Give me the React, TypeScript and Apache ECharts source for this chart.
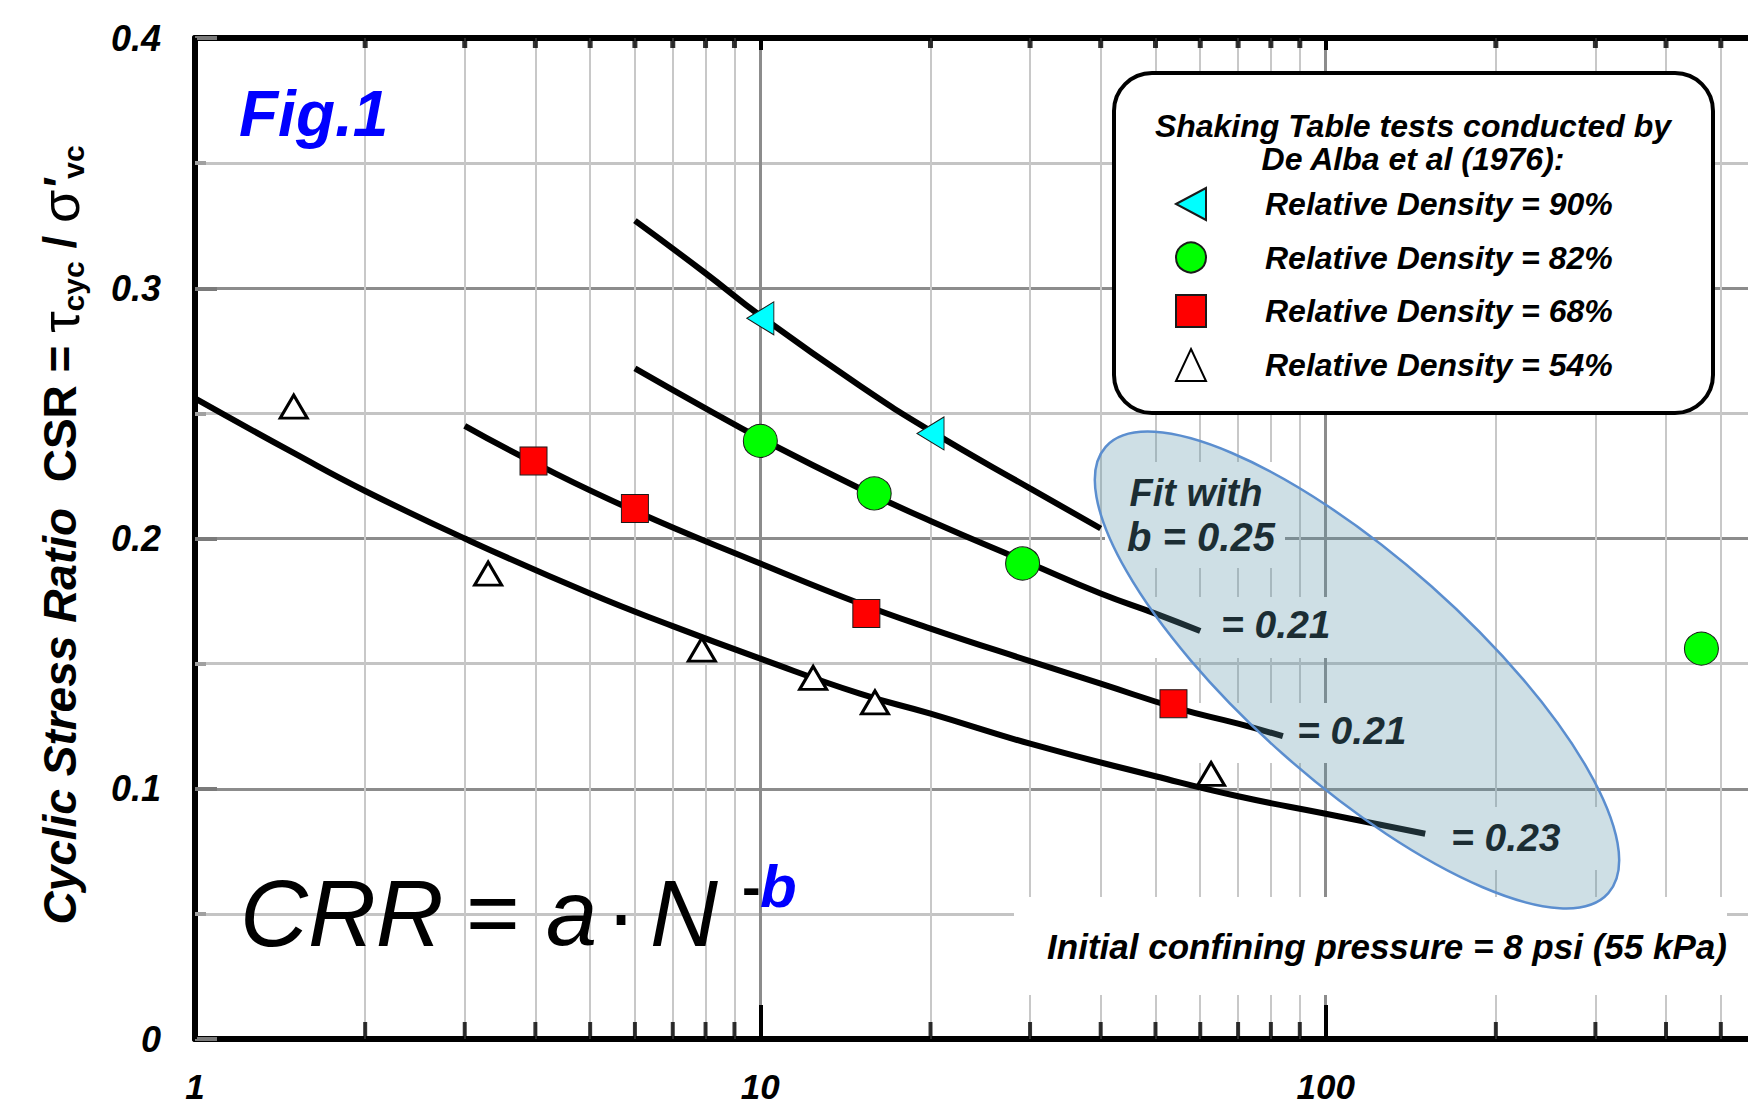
import React, { useEffect, useRef } from 'react';
import * as echarts from 'echarts';

// ---------- data ----------
const X_MINOR_TICKS = [2, 3, 4, 5, 6, 7, 8, 9, 20, 30, 40, 50, 60, 70, 80, 90, 200, 300, 400, 500, 600, 700, 800, 900];
const X_TICK_LABELS = [1, 10, 100];

const SERIES_NAMES = [
  'Relative Density = 90%',
  'Relative Density = 82%',
  'Relative Density = 68%',
  'Relative Density = 54%',
];

// measured test points [N, CSR]
const DR90_POINTS = [[10, 0.288], [20, 0.242]];
const DR82_POINTS = [[10, 0.239], [15.9, 0.218], [29.1, 0.19], [462, 0.156]];
const DR68_POINTS = [[3.97, 0.231], [6, 0.212], [15.4, 0.17], [53.8, 0.134]];
const DR54_POINTS = [[1.495, 0.2527], [3.3, 0.186], [7.88, 0.1556], [12.4, 0.1443], [15.95, 0.1345], [62.7, 0.1059]];

// fitted curves, points [N, CSR]
const FIT90_CURVE = [[6, 0.327], [8, 0.306], [10, 0.289], [15, 0.261], [20, 0.243], [30, 0.22], [40, 0.204]];
const FIT82_CURVE = [[6, 0.268], [8, 0.252], [10, 0.24], [15, 0.22], [20, 0.207], [30, 0.19], [40, 0.178], [50, 0.17], [60, 0.163]];
const FIT68_CURVE = [[3, 0.245], [4, 0.23], [6, 0.211], [10, 0.19], [15, 0.174], [20, 0.164], [30, 0.151], [40, 0.142], [55, 0.132], [70, 0.126], [84, 0.121]];
const FIT54_CURVE = [[1, 0.256], [1.5, 0.234], [2, 0.219], [3, 0.2], [5, 0.178], [7, 0.165], [10, 0.152], [15, 0.138], [20, 0.13], [30, 0.118], [50, 0.105], [70, 0.097], [100, 0.09], [150, 0.082]];

const LEGEND_TITLE = ['Shaking Table tests conducted by', 'De Alba et al (1976):'];
const FIT_TEXTS = ['Fit with', 'b = 0.25', '= 0.21', '= 0.21', '= 0.23'];
const NOTE_TEXT = 'Initial confining pressure = 8 psi (55 kPa)';

const FONT = '"Liberation Sans", Arial, Helvetica, sans-serif';
const BI = { fontFamily: FONT, fontWeight: 'bold', fontStyle: 'italic' };

function txt(text: string, x: number, y: number, extra: any, z = 6) {
  return {
    type: 'text',
    z,
    silent: true,
    x,
    y,
    style: { text, fill: '#000', align: 'left', verticalAlign: 'middle', ...extra },
  };
}

export default function App() {
  const ref = useRef<HTMLDivElement>(null);

  useEffect(() => {
    if (!ref.current) return;
    const chart = echarts.init(ref.current, null, { renderer: 'svg' });

    const curve = (data: number[][]) => ({
      type: 'line',
      data,
      smooth: true,
      symbol: 'none',
      silent: true,
      z: 3,
      lineStyle: { color: '#000', width: 6 },
      legendHoverLink: false,
    });

    const option: any = {
      animation: false,
      backgroundColor: '#ffffff',
      grid: { left: 195, top: 38, width: 1696, height: 1001, show: false, containLabel: false, outerBoundsMode: 'none' },
      xAxis: [
        {
          type: 'log',
          logBase: 10,
          min: 1,
          max: 1000,
          position: 'bottom',
          axisLine: { show: true, onZero: false, lineStyle: { color: '#000', width: 6 } },
          axisTick: { show: true, inside: true, length: 34, lineStyle: { color: '#000', width: 4 } },
          axisLabel: {
            show: true,
            margin: 30,
            fontSize: 35,
            color: '#000',
            ...BI,
            formatter: (v: number) => (X_TICK_LABELS.indexOf(v) >= 0 ? String(v) : ''),
          },
          splitLine: { show: true, lineStyle: { color: '#8c8c8c', width: 3 } },
        },
        {
          type: 'log',
          logBase: 10,
          min: 1,
          max: 1000,
          position: 'top',
          axisLine: { show: true, onZero: false, lineStyle: { color: '#000', width: 6 } },
          axisTick: { show: true, inside: true, length: 12, lineStyle: { color: '#000', width: 4 } },
          axisLabel: { show: false },
          splitLine: { show: false },
        },
      ],
      yAxis: {
        type: 'value',
        min: 0,
        max: 0.4,
        interval: 0.1,
        axisLine: { show: true, onZero: false, lineStyle: { color: '#000', width: 6 } },
        axisTick: { show: true, inside: true, length: 22, lineStyle: { color: '#7a7a7a', width: 4 } },
        minorTick: { show: true, splitNumber: 2, length: 11, lineStyle: { color: '#a0a0a0', width: 4 } },
        axisLabel: {
          margin: 34,
          fontSize: 36,
          color: '#000',
          ...BI,
          formatter: (v: number) => (v === 0 ? '0' : v.toFixed(1)),
        },
        splitLine: { show: true, showMinLine: false, showMaxLine: false, lineStyle: { color: '#8c8c8c', width: 3 } },
        minorSplitLine: { show: true, lineStyle: { color: '#c4c4c4', width: 3 } },
      },
      legend: {
        show: true,
        orient: 'vertical',
        left: 1175,
        top: 187,
        padding: 0,
        itemGap: 20,
        itemWidth: 30,
        itemHeight: 32,
        symbolKeepAspect: false,
        selectedMode: false,
        data: SERIES_NAMES,
        formatter: '{t|{name}}',
        textStyle: {
          ...BI,
          fontSize: 32,
          color: '#000',
          lineHeight: 33,
          rich: { t: { ...BI, fontSize: 32, color: '#000', lineHeight: 33, padding: [0, 0, 0, 54] } },
        },
      },
      series: [
        // minor vertical grid lines of the log axis
        {
          type: 'line',
          data: [],
          silent: true,
          z: 1,
          markLine: {
            silent: true,
            z: 1,
            symbol: ['none', 'none'],
            label: { show: false },
            emphasis: { disabled: true },
            lineStyle: { color: '#c8c8c8', width: 2, type: 'solid' },
            data: X_MINOR_TICKS.map((v) => ({ xAxis: v })),
          },
        },
        // minor ticks, bottom and top axes
        {
          type: 'scatter',
          data: X_MINOR_TICKS.map((v) => [v, 0]),
          symbol: 'rect',
          symbolSize: [4, 17],
          symbolOffset: [0, -8.5],
          itemStyle: { color: '#000' },
          silent: true,
          clip: false,
          z: 4,
        },
        {
          type: 'scatter',
          data: X_MINOR_TICKS.map((v) => [v, 0.4]),
          symbol: 'rect',
          symbolSize: [5, 10],
          symbolOffset: [0, 5],
          itemStyle: { color: '#000' },
          silent: true,
          clip: false,
          z: 4,
        },
        curve(FIT90_CURVE),
        curve(FIT82_CURVE),
        curve(FIT68_CURVE),
        curve(FIT54_CURVE),
        {
          name: SERIES_NAMES[0],
          type: 'scatter',
          data: DR90_POINTS,
          symbol: 'path://M0,50L100,0L100,100Z',
          symbolSize: [27, 33],
          itemStyle: { color: '#00ffff', borderColor: '#1a1a1a', borderWidth: 1, opacity: 1 },
          clip: false,
          z: 5,
        },
        {
          name: SERIES_NAMES[1],
          type: 'scatter',
          data: DR82_POINTS,
          symbol: 'circle',
          symbolSize: [34, 33],
          itemStyle: { color: '#00ff00', borderColor: '#1a1a1a', borderWidth: 1, opacity: 1 },
          clip: false,
          z: 5,
        },
        {
          name: SERIES_NAMES[2],
          type: 'scatter',
          data: DR68_POINTS,
          symbol: 'rect',
          symbolSize: [27, 28],
          itemStyle: { color: '#ff0000', borderColor: '#1a1a1a', borderWidth: 1, opacity: 1 },
          clip: false,
          z: 5,
        },
        {
          name: SERIES_NAMES[3],
          type: 'scatter',
          data: DR54_POINTS,
          symbol: 'triangle',
          symbolSize: [27, 23],
          itemStyle: { color: '#ffffff', borderColor: '#000', borderWidth: 3, opacity: 1 },
          clip: false,
          z: 5,
        },
      ],
      graphic: [
        // white text boxes behind the fit labels
        { type: 'rect', z: 2, silent: true, shape: { x: 1105, y: 462, width: 180, height: 106 }, style: { fill: '#fff' } },
        { type: 'rect', z: 2, silent: true, shape: { x: 1150, y: 597, width: 195, height: 61 }, style: { fill: '#fff' } },
        { type: 'rect', z: 2, silent: true, shape: { x: 1185, y: 703, width: 240, height: 60 }, style: { fill: '#fff' } },
        { type: 'rect', z: 2, silent: true, shape: { x: 1440, y: 807, width: 180, height: 63 }, style: { fill: '#fff' } },
        { type: 'rect', z: 2, silent: true, shape: { x: 1014, y: 897, width: 713, height: 98 }, style: { fill: '#fff' } },
        // legend frame & title
        {
          type: 'rect',
          z: 3,
          silent: true,
          shape: { x: 1114, y: 73, width: 599, height: 340, r: 38 },
          style: { fill: '#fff', stroke: '#000', lineWidth: 4 },
        },
        txt(LEGEND_TITLE[0], 1413, 126, { ...BI, fontSize: 32, align: 'center' }, 4),
        txt(LEGEND_TITLE[1], 1413, 159, { ...BI, fontSize: 32, align: 'center' }, 4),
        // Fig.1
        txt('Fig.1', 239, 114, { ...BI, fontSize: 64, fill: '#0000ff' }),
        // formula CRR = a·N^-b
        txt('CRR', 240, 913, { fontFamily: FONT, fontStyle: 'italic', fontSize: 94 }),
        txt('=', 466, 913, { fontFamily: FONT, fontSize: 92 }),
        txt('a', 546, 913, { fontFamily: FONT, fontStyle: 'italic', fontSize: 92 }),
        txt('\u00b7', 621, 913, { fontFamily: FONT, fontSize: 92, align: 'center' }),
        txt('N', 650, 913, { fontFamily: FONT, fontStyle: 'italic', fontSize: 94 }),
        txt('-', 742, 886, { fontFamily: FONT, fontWeight: 'bold', fontSize: 56 }),
        txt('b', 760, 886, { ...BI, fontSize: 60, fill: '#0000ff' }),
        // fit labels
        txt(FIT_TEXTS[0], 1196, 493, { ...BI, fontSize: 38, align: 'center' }),
        txt(FIT_TEXTS[1], 1201, 537, { ...BI, fontSize: 40, align: 'center' }),
        txt(FIT_TEXTS[2], 1221, 624, { ...BI, fontSize: 39 }),
        txt(FIT_TEXTS[3], 1297, 730, { ...BI, fontSize: 39 }),
        txt(FIT_TEXTS[4], 1451, 837, { ...BI, fontSize: 39 }),
        // note
        txt(NOTE_TEXT, 1387, 946, { ...BI, fontSize: 35, align: 'center' }),
        // y axis title
        {
          type: 'text',
          z: 6,
          silent: true,
          x: 60,
          y: 535,
          rotation: Math.PI / 2,
          style: {
            text: '{i|Cyclic Stress Ratio}{n|  CSR = }{g|\u03c4}{s|cyc}{n| / }{g|\u03c3}{p|\'}{s|vc}',
            align: 'center',
            verticalAlign: 'middle',
            fill: '#000',
            rich: {
              i: { fontFamily: FONT, fontSize: 46, fontWeight: 'bold', fontStyle: 'italic', fill: '#000', lineHeight: 56 },
              n: { fontFamily: FONT, fontSize: 46, fontWeight: 'bold', fill: '#000', lineHeight: 56 },
              g: { fontFamily: FONT, fontSize: 54, fontWeight: 'normal', fill: '#000', lineHeight: 56 },
              p: { fontFamily: FONT, fontSize: 46, fontWeight: 'bold', fontStyle: 'italic', fill: '#000', lineHeight: 56 },
              s: { fontFamily: FONT, fontSize: 30, fontWeight: 'bold', fill: '#000', lineHeight: 30, verticalAlign: 'bottom' },
            },
          },
        },
        // highlighted ellipse
        {
          type: 'ellipse',
          z: 8,
          silent: true,
          x: 1357,
          y: 670,
          rotation: -0.726,
          shape: { cx: 0, cy: 0, rx: 336, ry: 112 },
          style: { fill: 'rgba(92,148,170,0.3)', stroke: '#5b8ecf', lineWidth: 2.5 },
        },
      ],
    };

    chart.setOption(option);
    return () => {
      chart.dispose();
    };
  }, []);

  return (
    <div
      ref={ref}
      style={{ position: 'absolute', left: 0, top: 0, width: 1748, height: 1106, background: '#fff' }}
    />
  );
}
